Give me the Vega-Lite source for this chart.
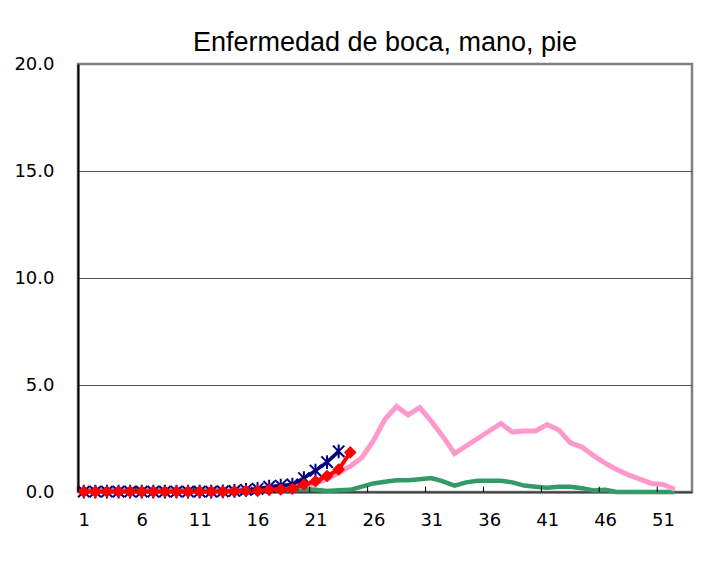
{
  "$schema": "https://vega.github.io/schema/vega-lite/v6.json",
  "width": 614,
  "height": 428,
  "autosize": {"type": "none"},
  "padding": {"left": 78, "top": 64, "right": 36, "bottom": 76},
  "background": "white",
  "title": {
    "text": "Enfermedad de boca, mano, pie",
    "font": "Liberation Sans",
    "fontSize": 27,
    "fontWeight": "normal",
    "color": "black",
    "anchor": "middle",
    "frame": "group",
    "baseline": "alphabetic",
    "offset": 12,
    "dy": 35
  },
  "config": {
    "view": {"stroke": "#808080", "strokeWidth": 2.5},
    "axis": {"labelFont": "DejaVu Sans", "labelFontSize": 18, "labelColor": "black"}
  },
  "datasets": {
    "pink": [
      {"week": 1, "value": 0.05}, {"week": 2, "value": 0.05}, {"week": 3, "value": 0.05}, {"week": 4, "value": 0.05},
      {"week": 5, "value": 0.05}, {"week": 6, "value": 0.05}, {"week": 7, "value": 0.05}, {"week": 8, "value": 0.05},
      {"week": 9, "value": 0.05}, {"week": 10, "value": 0.05}, {"week": 11, "value": 0.05}, {"week": 12, "value": 0.05},
      {"week": 13, "value": 0.05}, {"week": 14, "value": 0.08}, {"week": 15, "value": 0.1}, {"week": 16, "value": 0.12},
      {"week": 17, "value": 0.15}, {"week": 18, "value": 0.2}, {"week": 19, "value": 0.25}, {"week": 20, "value": 0.3},
      {"week": 21, "value": 0.4}, {"week": 22, "value": 0.6}, {"week": 23, "value": 0.9}, {"week": 24, "value": 1.2},
      {"week": 25, "value": 1.6}, {"week": 26, "value": 2.4}, {"week": 27, "value": 3.4}, {"week": 28, "value": 4.0},
      {"week": 29, "value": 3.6}, {"week": 30, "value": 3.95}, {"week": 31, "value": 3.3}, {"week": 32, "value": 2.6},
      {"week": 33, "value": 1.8}, {"week": 34, "value": 2.15}, {"week": 35, "value": 2.5}, {"week": 36, "value": 2.85},
      {"week": 37, "value": 3.2}, {"week": 38, "value": 2.8}, {"week": 39, "value": 2.85}, {"week": 40, "value": 2.85},
      {"week": 41, "value": 3.15}, {"week": 42, "value": 2.9}, {"week": 43, "value": 2.3}, {"week": 44, "value": 2.1},
      {"week": 45, "value": 1.7}, {"week": 46, "value": 1.35}, {"week": 47, "value": 1.05}, {"week": 48, "value": 0.8},
      {"week": 49, "value": 0.6}, {"week": 50, "value": 0.4}, {"week": 51, "value": 0.35}, {"week": 52, "value": 0.13}
    ],
    "green": [
      {"week": 1, "value": 0.1}, {"week": 2, "value": 0.1}, {"week": 3, "value": 0.1}, {"week": 4, "value": 0.1},
      {"week": 5, "value": 0.1}, {"week": 6, "value": 0.1}, {"week": 7, "value": 0.1}, {"week": 8, "value": 0.1},
      {"week": 9, "value": 0.1}, {"week": 10, "value": 0.1}, {"week": 11, "value": 0.1}, {"week": 12, "value": 0.1},
      {"week": 13, "value": 0.1}, {"week": 14, "value": 0.1}, {"week": 15, "value": 0.1}, {"week": 16, "value": 0.1},
      {"week": 17, "value": 0.1}, {"week": 18, "value": 0.12}, {"week": 19, "value": 0.12}, {"week": 20, "value": 0.15},
      {"week": 21, "value": 0.1}, {"week": 22, "value": 0.05}, {"week": 23, "value": 0.08}, {"week": 24, "value": 0.1},
      {"week": 25, "value": 0.25}, {"week": 26, "value": 0.4}, {"week": 27, "value": 0.48}, {"week": 28, "value": 0.55},
      {"week": 29, "value": 0.55}, {"week": 30, "value": 0.6}, {"week": 31, "value": 0.65}, {"week": 32, "value": 0.5},
      {"week": 33, "value": 0.3}, {"week": 34, "value": 0.45}, {"week": 35, "value": 0.52}, {"week": 36, "value": 0.52},
      {"week": 37, "value": 0.52}, {"week": 38, "value": 0.45}, {"week": 39, "value": 0.3}, {"week": 40, "value": 0.25},
      {"week": 41, "value": 0.2}, {"week": 42, "value": 0.25}, {"week": 43, "value": 0.25}, {"week": 44, "value": 0.18},
      {"week": 45, "value": 0.07}, {"week": 46, "value": 0.1}, {"week": 47, "value": 0.0}, {"week": 48, "value": 0.0},
      {"week": 49, "value": 0.0}, {"week": 50, "value": 0.0}, {"week": 51, "value": 0.0}, {"week": 52, "value": 0.0}
    ],
    "blue": [
      {"week": 1, "value": 0.02}, {"week": 2, "value": 0.02}, {"week": 3, "value": 0.02}, {"week": 4, "value": 0.02},
      {"week": 5, "value": 0.02}, {"week": 6, "value": 0.02}, {"week": 7, "value": 0.02}, {"week": 8, "value": 0.02},
      {"week": 9, "value": 0.02}, {"week": 10, "value": 0.02}, {"week": 11, "value": 0.02}, {"week": 12, "value": 0.02},
      {"week": 13, "value": 0.03}, {"week": 14, "value": 0.05}, {"week": 15, "value": 0.1}, {"week": 16, "value": 0.15},
      {"week": 17, "value": 0.25}, {"week": 18, "value": 0.3}, {"week": 19, "value": 0.35}, {"week": 20, "value": 0.65},
      {"week": 21, "value": 1.0}, {"week": 22, "value": 1.4}, {"week": 23, "value": 1.9}
    ],
    "red": [
      {"week": 1, "value": 0.02}, {"week": 2, "value": 0.02}, {"week": 3, "value": 0.02}, {"week": 4, "value": 0.02},
      {"week": 5, "value": 0.02}, {"week": 6, "value": 0.02}, {"week": 7, "value": 0.02}, {"week": 8, "value": 0.02},
      {"week": 9, "value": 0.02}, {"week": 10, "value": 0.02}, {"week": 11, "value": 0.02}, {"week": 12, "value": 0.02},
      {"week": 13, "value": 0.02}, {"week": 14, "value": 0.03}, {"week": 15, "value": 0.05}, {"week": 16, "value": 0.05},
      {"week": 17, "value": 0.1}, {"week": 18, "value": 0.12}, {"week": 19, "value": 0.15}, {"week": 20, "value": 0.35},
      {"week": 21, "value": 0.5}, {"week": 22, "value": 0.75}, {"week": 23, "value": 1.05}, {"week": 24, "value": 1.85}
    ]
  },
  "layer": [
    {
      "data": {"name": "green"},
      "mark": {"type": "line", "color": "#339966", "strokeWidth": 4.5},
      "encoding": {
        "x": {
          "field": "week", "type": "quantitative",
          "scale": {"domain": [0.5, 53.5], "nice": false, "zero": false},
          "axis": {
            "values": [1, 6, 11, 16, 21, 26, 31, 36, 41, 46, 51],
            "title": null, "grid": false, "ticks": false,
            "domainColor": "#404040", "domainWidth": 2,
            "labelPadding": 19, "labelFlush": false
          }
        },
        "y": {
          "field": "value", "type": "quantitative",
          "scale": {"domain": [0, 20], "nice": false},
          "axis": {
            "values": [0, 5, 10, 15, 20], "format": ".1f", "title": null,
            "ticks": false, "labelPadding": 24,
            "domainColor": "black", "domainWidth": 2,
            "grid": true, "gridColor": "#555555", "gridWidth": 1,
            "gridOpacity": {"condition": {"test": "datum.value == 0 || datum.value == 20", "value": 0}, "value": 1},
            "labelFlush": false
          }
        }
      }
    },
    {
      "data": {"name": "pink"},
      "mark": {"type": "line", "color": "#FF99CC", "strokeWidth": 5},
      "encoding": {
        "x": {"field": "week", "type": "quantitative"},
        "y": {"field": "value", "type": "quantitative"}
      }
    },
    {
      "data": {"name": "blue"},
      "mark": {"type": "line", "color": "#000080", "strokeWidth": 3.5},
      "encoding": {
        "x": {"field": "week", "type": "quantitative"},
        "y": {"field": "value", "type": "quantitative"}
      }
    },
    {
      "data": {"name": "blue"},
      "mark": {"type": "point", "shape": "M-1,-1L1,1M-1,1L1,-1M0,-1.2L0,1.2", "filled": false, "stroke": "#000080", "strokeWidth": 2, "size": 130, "opacity": 1},
      "encoding": {
        "x": {"field": "week", "type": "quantitative"},
        "y": {"field": "value", "type": "quantitative"}
      }
    },
    {
      "data": {"name": "red"},
      "mark": {"type": "line", "color": "#FF0000", "strokeWidth": 4},
      "encoding": {
        "x": {"field": "week", "type": "quantitative"},
        "y": {"field": "value", "type": "quantitative"}
      }
    },
    {
      "data": {"name": "red"},
      "mark": {"type": "point", "shape": "diamond", "filled": true, "color": "#FF0000", "size": 160, "opacity": 1},
      "encoding": {
        "x": {"field": "week", "type": "quantitative"},
        "y": {"field": "value", "type": "quantitative"}
      }
    },
    {
      "data": {"values": [{"t": 0.5}, {"t": 5.5}, {"t": 10.5}, {"t": 15.5}, {"t": 20.5}, {"t": 25.5}, {"t": 30.5}, {"t": 35.5}, {"t": 40.5}, {"t": 45.5}, {"t": 50.5}]},
      "mark": {"type": "rule", "color": "black", "strokeWidth": 1},
      "encoding": {
        "x": {"field": "t", "type": "quantitative"},
        "y": {"datum": 0},
        "y2": {"datum": 0.25}
      }
    }
  ]
}
